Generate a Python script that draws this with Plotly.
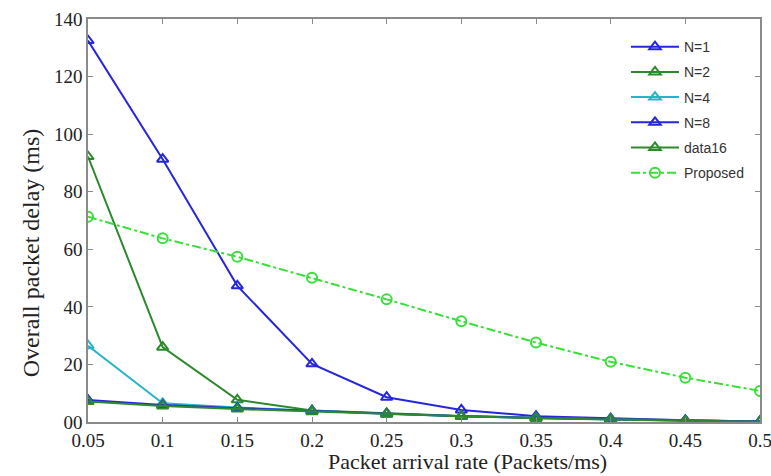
import plotly.graph_objects as go

x = [0.05, 0.1, 0.15, 0.2, 0.25, 0.3, 0.35, 0.4, 0.45, 0.5]
x_labels = ["0.05", "0.1", "0.15", "0.2", "0.25", "0.3", "0.35", "0.4", "0.45", "0.5"]

n1 = [132.5, 91.3, 47.3, 20.2, 8.6, 4.2, 2.0, 1.2, 0.6, 0.2]
n2 = [92.2, 26.0, 7.7, 4.0, 3.0, 2.1, 1.5, 1.0, 0.5, 0.2]
n4 = [26.5, 6.5, 5.0, 3.9, 2.9, 2.0, 1.4, 0.9, 0.5, 0.2]
n8 = [7.6, 5.9, 4.8, 3.8, 2.8, 2.0, 1.4, 0.9, 0.5, 0.2]
data16 = [7.1, 5.6, 4.5, 3.6, 2.7, 2.0, 1.3, 0.8, 0.4, 0.1]
proposed = [71.3, 63.8, 57.4, 50.1, 42.6, 35.0, 27.6, 20.9, 15.4, 10.8]

y_ticks = [0, 20, 40, 60, 80, 100, 120, 140]
y_labels = ["00", "20", "40", "60", "80", "100", "120", "140"]

x_title = "Packet arrival rate (Packets/ms)"
y_title = "Overall packet delay (ms)"

series = [
    ("N=1", n1, "#2626dc", "solid", "triangle-up-open"),
    ("N=2", n2, "#2c8a2c", "solid", "triangle-up-open"),
    ("N=4", n4, "#26b4c6", "solid", "triangle-up-open"),
    ("N=8", n8, "#2626dc", "solid", "triangle-up-open"),
    ("data16", data16, "#2c8a2c", "solid", "triangle-up-open"),
    ("Proposed", proposed, "#3ade3a", "dashdot", "circle-open"),
]

fig = go.Figure()
for name, ys, col, dash, sym in series:
    fig.add_trace(go.Scatter(
        x=x, y=ys, name=name, mode="lines+markers",
        legendgroup=name,
        line=dict(color=col, width=2, dash=dash),
        marker=dict(symbol=sym, size=10, color=col, line=dict(width=2, color=col)),
    ))

axis_common = dict(
    showline=True, linecolor="#8a8a8a", linewidth=1.5, mirror="ticks",
    ticks="inside", ticklen=5, tickcolor="#8a8a8a", showgrid=False, zeroline=False,
    tickfont=dict(family="Liberation Serif", size=19, color="#222222"),
    ticklabeloverflow="allow",
)

fig.update_xaxes(range=[0.05, 0.5], tickvals=x, ticktext=x_labels, **axis_common)
fig.update_yaxes(range=[0, 140], tickvals=y_ticks, ticktext=y_labels, **axis_common)

fig.add_annotation(text=x_title, xref="paper", yref="paper", x=0.564, y=-0.1345,
                   xanchor="center", yanchor="bottom", showarrow=False,
                   font=dict(family="Liberation Serif", size=22, color="#222222"))
fig.add_annotation(text=y_title, xref="paper", yref="paper", x=-0.085, y=0.421,
                   xanchor="center", yanchor="middle", showarrow=False, textangle=-90,
                   font=dict(family="Liberation Serif", size=24, color="#222222"))

fig.update_layout(
    width=771, height=476,
    margin=dict(l=88, r=11, t=19, b=54, autoexpand=False),
    paper_bgcolor="white", plot_bgcolor="white",
    showlegend=True,
    legend=dict(
        x=0.8006, y=0.970, xanchor="left", yanchor="top",
        bgcolor="rgba(255,255,255,0)", borderwidth=0,
        font=dict(family="Liberation Sans", size=14, color="#333333"),
        itemwidth=48, tracegroupgap=4,
    ),
)

fig.write_html("out.html")
